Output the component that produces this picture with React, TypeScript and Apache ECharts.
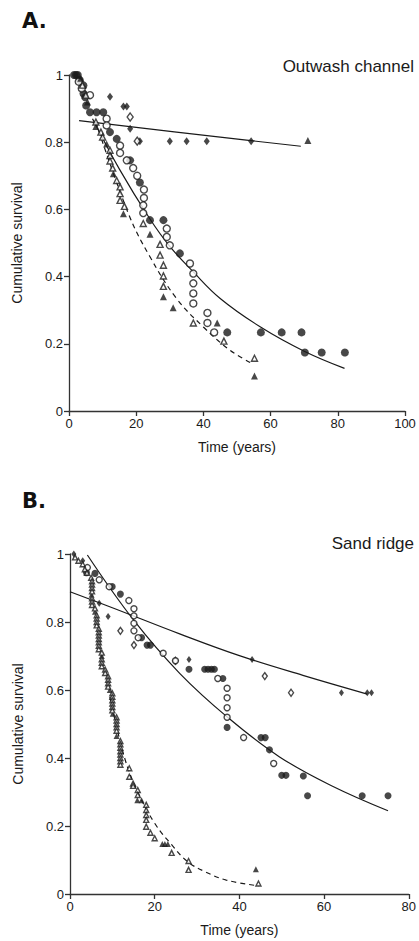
import React, { useEffect, useRef } from "react";
import * as echarts from "echarts";

// ---------- Panel A: Outwash channel  [time (years), cumulative survival] ----------
const aDiamondFilled = [
  [12.2, 0.935], [16.2, 0.906], [17.2, 0.906], [18.2, 0.84], [21.1, 0.803],
  [30, 0.803], [35, 0.803], [41, 0.803], [54.2, 0.803],
];
const aDiamondOpen = [[18.2, 0.875], [20.3, 0.803]];
const aCircleFilled = [
  [1.5, 1.0], [2.1, 1.0], [2.6, 1.0], [3.2, 0.985], [4.3, 0.969], [4.3, 0.945],
  [4.8, 0.934], [5.1, 0.909], [6.25, 0.889], [8.2, 0.889], [10.2, 0.889],
  [12.2, 0.83], [14.2, 0.81], [18.2, 0.746], [21.1, 0.68], [24.1, 0.568],
  [28.1, 0.568], [33, 0.469], [47.1, 0.234], [57.1, 0.234], [63.3, 0.234],
  [69.2, 0.234], [70.2, 0.174], [75.2, 0.174], [82.1, 0.174],
];
const aCircleOpen = [
  [2.9, 0.98], [3.8, 0.96], [6.25, 0.94], [11.2, 0.87], [11.2, 0.85],
  [15.2, 0.79], [15.2, 0.768], [17.2, 0.746], [19.1, 0.723], [20.3, 0.7],
  [22.3, 0.659], [22.3, 0.634], [22.1, 0.612], [22.1, 0.589], [29.1, 0.543],
  [29.1, 0.518], [30, 0.493], [36, 0.439], [37, 0.409], [37, 0.38], [37, 0.35],
  [37, 0.32], [41.2, 0.292], [41.2, 0.262], [43.2, 0.234],
];
const aTriangleFilled = [
  [3.5, 0.99], [5.5, 0.92], [8, 0.847], [11.2, 0.795], [13.2, 0.706],
  [16.2, 0.587], [24.1, 0.526], [28.1, 0.34], [31, 0.307], [44.1, 0.262],
  [55.2, 0.104], [71.1, 0.805],
];
const aTriangleOpen = [
  [4, 0.97], [5, 0.94], [8, 0.86], [9.5, 0.83], [10, 0.815], [12.2, 0.776],
  [12.2, 0.76], [12.2, 0.744], [13, 0.723], [14.2, 0.686], [15.2, 0.667],
  [15.2, 0.647], [15.2, 0.627], [16.5, 0.609], [22.1, 0.558], [27.1, 0.496],
  [27.1, 0.464], [28.1, 0.434], [28.1, 0.402], [28.1, 0.371], [37, 0.262],
  [46.1, 0.208], [55.2, 0.157],
];
// fitted curves
const aDiamondFit = [[3, 0.864], [45, 0.815], [69, 0.788]];
const aCircleFit = [
  [7, 0.87], [15, 0.72], [24, 0.573], [30, 0.49], [37, 0.414], [45, 0.335],
  [57, 0.25], [70, 0.178], [82, 0.127],
];
const aTriangleFit = [
  [8, 0.86], [17.7, 0.587], [24.1, 0.459], [32, 0.335], [40, 0.25],
  [47.9, 0.181], [54, 0.144],
];

// ---------- Panel B: Sand ridge ----------
const bDiamondFilled = [
  [0.9, 1.0], [3, 0.98], [6.9, 0.855], [9, 0.816], [28.1, 0.69], [43, 0.69],
  [64.1, 0.592], [70.2, 0.592], [71.2, 0.592],
];
const bDiamondOpen = [[11.9, 0.774], [15.1, 0.732], [24.9, 0.686], [46, 0.641], [52.2, 0.592]];
const bCircleFilled = [
  [3.9, 0.945], [5.9, 0.943], [9.96, 0.904], [11.9, 0.882], [16.9, 0.754],
  [18.2, 0.732], [19, 0.732], [28.1, 0.661], [31.8, 0.661], [32.6, 0.661],
  [33.4, 0.661], [34.1, 0.661], [36.1, 0.634], [37.1, 0.49], [45.1, 0.46],
  [46.1, 0.46], [47.1, 0.424], [50, 0.349], [51, 0.349], [55.1, 0.347],
  [56.1, 0.289], [69, 0.289], [75.1, 0.289],
];
const bCircleOpen = [
  [4.1, 0.96], [6.9, 0.924], [9.25, 0.904], [13.9, 0.863], [15.1, 0.839],
  [15.1, 0.818], [15.1, 0.796], [15.1, 0.774], [16.1, 0.754], [22, 0.708],
  [24.9, 0.686], [34.9, 0.634], [37.1, 0.605], [37.1, 0.577], [37.1, 0.548],
  [37.1, 0.52], [41, 0.46], [48.1, 0.384],
];
const bTriangleFilled = [
  [5.1, 0.88], [5.9, 0.83], [7.5, 0.7], [9.4, 0.6], [10.1, 0.53], [11, 0.465],
  [15.9, 0.276], [16.9, 0.276], [21.8, 0.147], [22.4, 0.147], [23.1, 0.147],
  [43.9, 0.073],
];
const bTriangleOpen = [
  [1.2, 0.99], [2, 0.98], [3, 0.97], [3.5, 0.955], [4, 0.945], [5, 0.93],
  [5.2, 0.92], [5.2, 0.91], [5.2, 0.9], [5.2, 0.89], [5.2, 0.87], [5.2, 0.86],
  [5.2, 0.85], [5.9, 0.84], [6.3, 0.82], [6.3, 0.81], [6.3, 0.8], [6.3, 0.79],
  [6.8, 0.78], [6.8, 0.77], [6.8, 0.76], [6.8, 0.75], [6.8, 0.74], [6.8, 0.73],
  [6.8, 0.72], [7.5, 0.71], [7.5, 0.69], [7.5, 0.68], [7.5, 0.67], [8.3, 0.66],
  [8.3, 0.65], [9, 0.64], [9, 0.63], [9, 0.62], [9, 0.61], [10, 0.59],
  [10, 0.58], [10, 0.57], [10, 0.56], [10, 0.55], [10, 0.54], [11, 0.52],
  [11, 0.51], [11, 0.5], [11, 0.49], [11, 0.48], [11.9, 0.45], [11.9, 0.44],
  [11.9, 0.43], [11.9, 0.42], [11.9, 0.41], [11.9, 0.4], [11.9, 0.39],
  [11.9, 0.38], [14, 0.37], [14, 0.345], [14.9, 0.325], [14.9, 0.318],
  [16, 0.306], [16, 0.291], [18, 0.262], [18, 0.247], [18, 0.232], [18, 0.218],
  [18, 0.198], [19, 0.18], [20, 0.164], [24, 0.121], [28, 0.097], [28, 0.071],
  [44.5, 0.031],
];
const bDiamondFit = [[0, 0.889], [10, 0.842], [25.9, 0.765], [40, 0.701], [55, 0.643], [70.2, 0.588]];
const bCircleFit = [
  [4.1, 0.997], [15, 0.806], [25.9, 0.649], [37.1, 0.521], [49.4, 0.404],
  [62, 0.317], [75.1, 0.245],
];
const bTriangleFit = [
  [9.4, 0.58], [12.9, 0.4], [16, 0.3], [20, 0.208], [24, 0.145], [27.8, 0.095],
  [32, 0.065], [36.9, 0.041], [44.5, 0.024],
];

const xTicksA = { min: 0, max: 100, interval: 20 };
const xTicksB = { min: 0, max: 80, interval: 20 };
const yTicks = { min: 0, max: 1, interval: 0.2 };

const FONT = "'Liberation Sans', Arial, Helvetica, sans-serif";
const INK = "#1a1a1a";

function scatter(data: number[][], symbol: string, open: boolean, idx: number, size: number) {
  return {
    type: "scatter",
    xAxisIndex: idx,
    yAxisIndex: idx,
    data,
    symbol,
    symbolSize: symbol === "diamond" ? [size - 1, size + 1] : size,
    itemStyle: open
      ? { color: "#ffffff", borderColor: INK, borderWidth: 1.4 }
      : { color: INK, borderWidth: 0 },
    z: 3,
  };
}

function fit(data: number[][], dashed: boolean, idx: number) {
  return {
    type: "line",
    xAxisIndex: idx,
    yAxisIndex: idx,
    data,
    smooth: 0.4,
    showSymbol: false,
    symbol: "none",
    lineStyle: { color: INK, width: 1.2, type: dashed ? [5, 4] : "solid" },
    z: 2,
  };
}

function xAxis(idx: number, t: { min: number; max: number; interval: number }) {
  return {
    type: "value",
    gridIndex: idx,
    ...t,
    name: "Time (years)",
    nameLocation: "middle",
    nameGap: 29,
    nameTextStyle: { fontFamily: FONT, fontSize: 14, color: INK },
    axisLine: { show: true, lineStyle: { color: "#333", width: 1.3 } },
    axisTick: { show: true, inside: false, length: 5, lineStyle: { color: "#333", width: 1.3 } },
    axisLabel: { fontFamily: FONT, fontSize: 13, color: INK, margin: 6 },
    splitLine: { show: false },
  };
}

function yAxis(idx: number) {
  return {
    type: "value",
    gridIndex: idx,
    ...yTicks,
    name: "Cumulative survival",
    nameLocation: "middle",
    nameRotate: 90,
    nameGap: 45,
    nameTextStyle: { fontFamily: FONT, fontSize: 14, color: INK },
    axisLine: { show: true, lineStyle: { color: "#333", width: 1.3 } },
    axisTick: { show: true, inside: false, length: 5, lineStyle: { color: "#333", width: 1.3 } },
    axisLabel: { fontFamily: FONT, fontSize: 13, color: INK, margin: 6 },
    splitLine: { show: false },
  };
}

export default function App() {
  const ref = useRef<HTMLDivElement>(null);
  useEffect(() => {
    if (!ref.current) return;
    const chart = echarts.init(ref.current, undefined, { renderer: "svg" });
    chart.setOption({
      animation: false,
      backgroundColor: "#ffffff",
      grid: [
        { left: 69, top: 75, width: 336, height: 336 },
        { left: 70, top: 554, width: 340, height: 340 },
      ],
      xAxis: [xAxis(0, xTicksA), xAxis(1, xTicksB)],
      yAxis: [yAxis(0), yAxis(1)],
      graphic: [
        { type: "text", left: 22, top: 10, style: { text: "A.", fontFamily: "'DejaVu Sans', sans-serif", fontWeight: 900, fontSize: 21, fill: "#111" } },
        { type: "text", left: 22, top: 490, style: { text: "B.", fontFamily: "'DejaVu Sans', sans-serif", fontWeight: 900, fontSize: 21, fill: "#111" } },
        { type: "text", right: 5, top: 58, style: { text: "Outwash channel", fontFamily: FONT, fontSize: 17, fill: INK } },
        { type: "text", right: 5, top: 535, style: { text: "Sand ridge", fontFamily: FONT, fontSize: 17, fill: INK } },
      ],
      series: [
        fit(aDiamondFit, false, 0),
        fit(aCircleFit, false, 0),
        fit(aTriangleFit, true, 0),
        scatter(aDiamondFilled, "diamond", false, 0, 7),
        scatter(aDiamondOpen, "diamond", true, 0, 7),
        scatter(aCircleFilled, "circle", false, 0, 8),
        scatter(aCircleOpen, "circle", true, 0, 7),
        scatter(aTriangleFilled, "triangle", false, 0, 7),
        scatter(aTriangleOpen, "triangle", true, 0, 6),
        fit(bDiamondFit, false, 1),
        fit(bCircleFit, false, 1),
        fit(bTriangleFit, true, 1),
        scatter(bDiamondFilled, "diamond", false, 1, 6),
        scatter(bDiamondOpen, "diamond", true, 1, 6),
        scatter(bCircleFilled, "circle", false, 1, 7),
        scatter(bCircleOpen, "circle", true, 1, 6),
        scatter(bTriangleFilled, "triangle", false, 1, 6),
        scatter(bTriangleOpen, "triangle", true, 1, 5),
      ],
    });
    return () => chart.dispose();
  }, []);
  return (
    <div
      ref={ref}
      style={{ position: "fixed", left: 0, top: 0, width: 419, height: 941, background: "#fff" }}
    />
  );
}
